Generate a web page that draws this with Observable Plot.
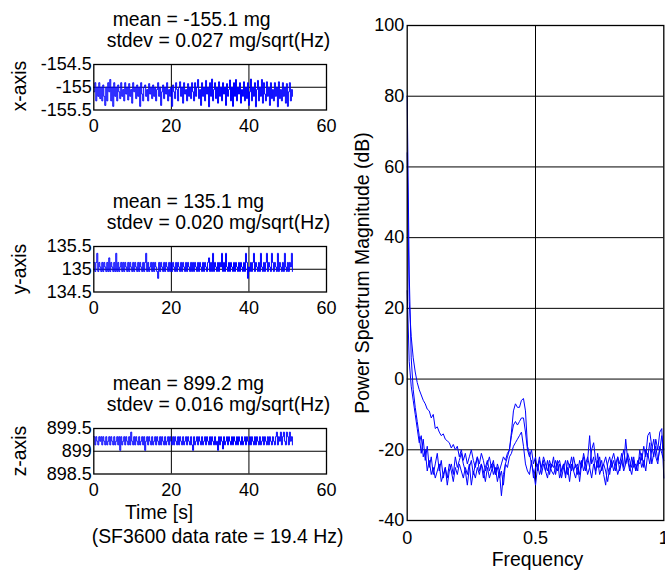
<!DOCTYPE html>
<html><head><meta charset="utf-8">
<script src="https://cdn.jsdelivr.net/npm/d3@7"></script>
<script src="https://cdn.jsdelivr.net/npm/@observablehq/plot@0.6"></script>
<style>
html,body{margin:0;padding:0;background:#fff;overflow:hidden}
#fig{position:relative;width:665px;height:573px;overflow:hidden;font-family:"Liberation Sans",Arial,sans-serif;color:#000;background:#fff}
.lbl{position:absolute;white-space:pre;font-size:19.4px;line-height:1}
.rot{position:absolute;white-space:pre;font-size:19.4px;line-height:1;transform:translate(-50%,-50%) rotate(-90deg)}
.pl{position:absolute}
</style></head><body><div id="fig"></div>
<script>
// ---------- data ----------
const titles = [
  ["mean = -155.1 mg", "stdev = 0.027 mg/sqrt(Hz)"],
  ["mean = 135.1 mg", "stdev = 0.020 mg/sqrt(Hz)"],
  ["mean = 899.2 mg", "stdev = 0.016 mg/sqrt(Hz)"]
];
const axisNames = ["x-axis", "y-axis", "z-axis"];
const timeTicks = [0, 20, 40, 60];
const xTicks = [-155.5, -155, -154.5];
const yTicks = [134.5, 135, 135.5];
const zTicks = [898.5, 899, 899.5];
const freqTicks = [0, 0.5, 1];
const dbTicks = [-40, -20, 0, 20, 40, 60, 80, 100];
const timeStep = 0.2573; // s between plotted samples
const freqStep = 1 / 128;

const xSeries = [
-155.1,-154.9,-155.3,-155.0,-155.2,-154.9,-155.25,-155.0,-155.3,-154.95,-155.2,-155.4,-155.0,-155.3,-154.9,-155.1,-154.83,-155.3,-155.0,-155.42,
-154.9,-155.2,-155.0,-155.3,-154.95,-155.1,-155.25,-154.9,-155.2,-155.05,-155.3,-154.9,-155.15,-155.0,-155.28,-154.92,-155.2,-155.05,-155.35,-154.9,
-155.1,-155.0,-155.25,-154.95,-155.2,-155.0,-155.42,-154.9,-155.15,-155.3,-155.0,-154.95,-155.2,-155.05,-155.3,-154.92,-155.15,-155.0,-155.25,-154.95,
-155.2,-155.0,-155.3,-155.05,-154.9,-155.2,-155.0,-155.4,-155.1,-154.95,-155.25,-155.0,-155.15,-154.9,-155.3,-155.05,-155.2,-155.0,-155.42,-154.95,
-155.1,-155.25,-154.9,-155.05,-155.3,-155.0,-154.88,-155.2,-155.0,-155.35,-154.9,-155.15,-155.05,-155.3,-154.92,-155.2,-155.0,-155.25,-154.9,-155.1,
-155.3,-154.9,-155.2,-155.0,-154.83,-155.25,-155.05,-155.4,-154.9,-155.2,-155.0,-155.3,-154.85,-155.15,-155.0,-155.43,-154.9,-155.2,-154.82,-155.3,
-155.05,-154.9,-155.25,-155.0,-155.35,-154.88,-155.2,-155.0,-155.3,-154.9,-155.15,-155.0,-155.4,-154.92,-155.2,-155.05,-154.84,-155.3,-155.0,-155.42,
-154.9,-155.2,-154.83,-155.3,-155.0,-155.15,-154.9,-155.35,-155.05,-155.2,-154.88,-155.3,-155.0,-155.25,-154.9,-155.4,-155.1,-154.82,-155.3,-155.0,
-155.2,-154.9,-155.43,-155.05,-154.85,-155.3,-155.0,-155.2,-154.83,-155.35,-154.9,-155.15,-155.3,-154.88,-155.2,-155.0,-155.4,-154.9,-155.25,-155.05,
-155.3,-154.9,-155.2,-155.0,-155.43,-154.88,-155.25,-155.05,-155.3,-154.9,-155.2,-155.0,-155.35,-154.92,-155.42,-155.1,-154.9,-155.3,-155.05,-155.2
];
const ySeries = [
135.15,134.95,135.15,135.35,134.95,135.15,135.05,134.95,135.15,134.95,135.15,135.05,134.95,135.15,134.95,135.25,134.95,135.15,135.05,134.95,
135.15,134.95,135.35,134.95,135.15,134.95,135.05,135.15,134.95,135.15,134.95,135.15,135.05,134.95,135.15,134.95,135.15,135.05,134.95,135.15,
134.95,135.15,135.05,134.95,135.15,134.95,135.15,135.05,134.95,135.15,134.95,135.15,135.35,134.95,135.15,134.95,135.05,135.15,134.95,135.15,
134.95,135.15,135.05,134.95,134.8,135.15,134.95,135.15,135.05,134.95,135.15,134.95,135.15,135.05,134.95,135.15,134.95,135.15,134.95,135.15,
135.05,134.95,135.15,134.95,135.15,135.05,134.95,135.15,134.95,135.15,135.05,134.95,135.15,134.95,135.15,135.05,134.95,135.15,134.95,135.15,
134.95,135.15,135.05,134.95,135.15,134.95,135.15,135.05,134.95,135.15,134.95,135.15,135.05,134.95,135.15,135.25,134.95,135.15,134.95,135.35,
134.95,135.15,135.05,134.95,135.15,134.95,135.15,135.05,135.35,134.95,135.15,134.95,135.35,135.05,134.95,135.15,134.95,135.15,135.05,134.95,
135.15,134.95,135.15,135.05,134.95,135.15,134.95,135.15,135.05,134.95,135.15,134.95,135.35,135.15,134.8,135.05,134.95,135.15,134.95,135.15,
135.35,134.95,135.15,135.05,134.95,135.15,134.95,135.35,135.05,134.95,135.15,134.95,135.15,135.35,134.95,135.15,135.05,134.95,135.35,135.15,
134.95,135.15,135.05,134.95,135.35,134.95,135.15,135.05,134.95,135.15,134.95,135.35,135.05,134.95,135.15,134.95,135.15,135.05,135.35,134.95
];
const zSeries = [
899.32,899.14,899.32,899.22,899.14,899.32,899.22,899.32,899.14,899.32,899.22,899.14,899.32,899.14,899.22,899.32,899.14,899.32,899.22,899.14,
899.32,899.14,899.22,899.32,899.14,899.32,899.02,899.32,899.14,899.22,899.32,899.14,899.32,899.22,899.14,899.32,899.14,899.42,899.22,899.14,
899.32,899.14,899.32,899.22,899.14,899.32,899.14,899.22,899.32,899.14,899.32,899.02,899.22,899.32,899.14,899.32,899.22,899.14,899.32,899.14,
899.22,899.32,899.14,899.32,899.22,899.14,899.32,899.14,899.32,899.22,899.14,899.32,899.14,899.22,899.32,899.14,899.32,899.22,899.14,899.32,
899.14,899.32,899.22,899.14,899.32,899.14,899.32,899.22,899.14,899.32,899.14,899.22,899.32,899.14,899.32,899.22,899.14,899.32,899.14,899.02,
899.32,899.14,899.22,899.32,899.14,899.32,899.22,899.14,899.32,899.14,899.22,899.32,899.14,899.32,899.22,899.14,899.32,899.14,899.32,899.22,
899.14,899.32,899.14,899.22,899.02,899.32,899.14,899.32,899.22,899.05,899.32,899.14,899.22,899.32,899.14,899.32,899.22,899.14,899.32,899.14,
899.32,899.22,899.14,899.32,899.14,899.32,899.22,899.14,899.32,899.14,899.22,899.32,899.14,899.32,899.22,899.14,899.32,899.14,899.32,899.22,
899.14,899.32,899.14,899.32,899.22,899.14,899.32,899.14,899.22,899.32,899.14,899.32,899.22,899.14,899.32,899.14,899.32,899.22,899.14,899.32,
899.22,899.14,899.32,899.42,899.14,899.32,899.22,899.42,899.14,899.32,899.42,899.22,899.14,899.42,899.32,899.14,899.42,899.22,899.32,899.14
];
const psdA = [
80,30,6,-3,-8,-12,-16,-21,-17,-23,-19,-25,-22,-27,-24,-21,-26,-23,-28,-25,
-30,-26,-24,-27,-22,-25,-23,-21,-24,-26,-30,-25,-23,-27,-24,-22,-26,-24,-28,-25,
-23,-26,-24,-27,-25,-29,-26,-33,-27,-24,-22,-20,-15,-9,-7,-8,-8,-6,-5.5,-9,
-19,-21,-24,-26,-30,-25,-22,-27,-24,-26,-23,-27,-24,-25,-23,-26,-24,-28,-25,-23,
-27,-24,-26,-22,-25,-24,-29,-24,-22,-26,-23,-16,-24,-22,-27,-21,-25,-23,-27,-30,
-24,-22,-25,-23,-26,-22,-24,-21,-25,-17,-23,-26,-22,-25,-24,-26,-20,-23,-19,-22,
-16,-15,-19,-22,-17,-20,-15,-14,-28
];
const psdB = [
64,22,12,6,2,-1,-3,-4.5,-6,-7,-8.5,-9,-11,-10,-14,-13.5,-15,-16,-15.5,-17,
-17.5,-18,-19.5,-18.5,-20,-19,-22,-20,-23,-21,-24,-22,-20,-23,-25,-22,-24,-21,-23,-26,
-24,-22,-25,-23,-27,-24,-26,-24,-22,-23,-21,-20,-16,-13,-12,-13,-12,-11,-11,-15,
-20,-22,-20,-24,-22,-26,-23,-25,-22,-24,-26,-23,-25,-22,-27,-24,-23,-26,-24,-28,
-23,-25,-22,-26,-24,-27,-23,-25,-21,-24,-22,-25,-20,-18,-23,-25,-22,-26,-24,-22,
-25,-27,-23,-21,-24,-22,-26,-23,-20,-24,-21,-23,-25,-22,-26,-23,-24,-21,-25,-20,
-22,-18,-24,-21,-19,-23,-20,-16,-20
];
const psdC = [
25,5,-2,-6,-10,-14,-18,-16,-22,-20,-26,-23,-27,-25,-28,-26,-24,-29,-27,-25,
-28,-24,-26,-29,-25,-27,-24,-26,-28,-25,-27,-24,-30,-26,-28,-25,-27,-24,-26,-29,
-25,-28,-26,-24,-27,-25,-28,-26,-30,-24,-25,-22,-21,-19,-18,-17,-16,-15,-19,-24,
-26,-27,-23,-28,-25,-24,-27,-25,-23,-26,-28,-24,-26,-27,-25,-23,-28,-26,-24,-27,
-25,-29,-24,-26,-28,-25,-27,-23,-26,-24,-27,-25,-28,-24,-26,-23,-27,-25,-24,-26,
-29,-25,-23,-26,-24,-27,-25,-23,-26,-24,-22,-25,-27,-23,-26,-24,-22,-25,-23,-26,
-21,-24,-20,-17,-22,-24,-19,-21,-23
];

// ---------- layout ----------
const FONT = '"Liberation Sans", Arial, sans-serif';
const fig = document.getElementById("fig");
const BLUE = "#0000ff";
const fmt = d => String(d);

function addText(cls, txt, css) {
  const d = document.createElement("div");
  d.className = cls;
  d.textContent = txt;
  Object.assign(d.style, css);
  fig.appendChild(d);
}

function small(frameTop, values, ticksY, idx) {
  const mt = 20, mb = 34, fh = 45.5;
  const data = values.map((v, i) => ({t: i * timeStep, v}));
  const p = Plot.plot({
    width: 340, height: fh + mt + mb,
    marginLeft: 93.3, marginRight: 14, marginTop: mt, marginBottom: mb,
    x: {domain: [0, 60]},
    y: {domain: [ticksY[0], ticksY[2]]},
    style: {overflow: "visible", background: "transparent", fontFamily: FONT, fontSize: "18px", color: "#000"},
    marks: [
      Plot.ruleX([timeTicks[1], timeTicks[2]], {stroke: "#000", strokeWidth: 1}),
      Plot.ruleY([ticksY[1]], {stroke: "#000", strokeWidth: 1}),
      Plot.line(data, {x: "t", y: "v", stroke: BLUE, strokeWidth: 1, curve: "step-after"}),
      Plot.frame({stroke: "#000", strokeWidth: 1.3}),
      Plot.axisX({ticks: timeTicks, tickSize: 0, tickPadding: 9.5, fontSize: 18, tickFormat: fmt, label: null}),
      Plot.axisY({ticks: ticksY, tickSize: 0, tickPadding: 2, fontSize: 18, tickFormat: fmt, label: null})
    ]
  });
  p.classList.add("pl");
  p.style.left = "0px";
  p.style.top = (frameTop - mt) + "px";
  fig.appendChild(p);
  addText("lbl", titles[idx][0], {left: "112.7px", top: (frameTop - 37.5 - 16.4) + "px"});
  addText("lbl", titles[idx][1], {left: "106.7px", top: (frameTop - 16.6 - 16.4) + "px"});
  addText("rot", axisNames[idx], {left: "20px", top: (frameTop + fh / 2) + "px"});
}

small(63.5, xSeries, xTicks, 0);
small(245.8, ySeries, yTicks, 1);
small(428, zSeries, zTicks, 2);

addText("lbl", "Time [s]", {left: "125px", top: (519 - 16.4) + "px"});
addText("lbl", "(SF3600 data rate = 19.4 Hz)", {left: "91.7px", top: (543 - 16.4) + "px"});

// spectrum
const spec = [];
[psdA, psdB, psdC].forEach((arr, k) => arr.forEach((v, i) => spec.push({f: i * freqStep, db: v, s: k})));
const big = Plot.plot({
  width: 325, height: 573,
  marginLeft: 66.7, marginRight: 1.7, marginTop: 25, marginBottom: 53,
  x: {domain: [0, 1]},
  y: {domain: [-40, 100]},
  style: {overflow: "visible", background: "transparent", fontFamily: FONT, fontSize: "18px", color: "#000"},
  marks: [
    Plot.ruleX([freqTicks[1]], {stroke: "#000", strokeWidth: 1}),
    Plot.ruleY(dbTicks.slice(1, -1), {stroke: "#000", strokeWidth: 1}),
    Plot.line(spec, {x: "f", y: "db", z: "s", stroke: BLUE, strokeWidth: 1}),
    Plot.frame({stroke: "#000", strokeWidth: 1.3}),
    Plot.axisX({ticks: freqTicks, tickSize: 0, tickPadding: 10.5, fontSize: 18, tickFormat: fmt, label: null}),
    Plot.axisY({ticks: dbTicks, tickSize: 0, tickPadding: 3, fontSize: 18, tickFormat: fmt, label: null})
  ]
});
big.classList.add("pl");
big.style.left = "340px";
big.style.top = "0px";
fig.appendChild(big);

addText("lbl", "Frequency", {left: "537.5px", top: (566 - 16.4) + "px", transform: "translateX(-50%)"});
addText("rot", "Power Spectrum Magnitude (dB)", {left: "362.5px", top: "272.5px"});
</script></body></html>
